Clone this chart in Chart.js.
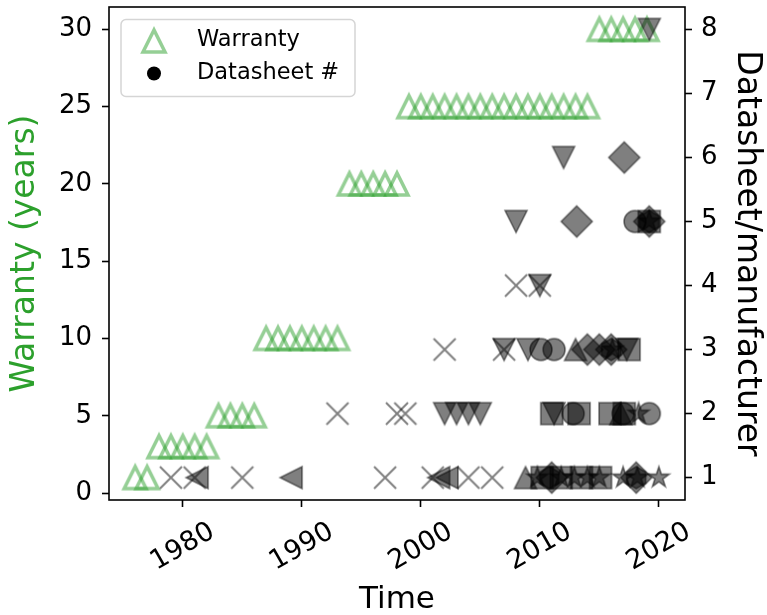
<!DOCTYPE html>
<html>
<head>
<meta charset="utf-8">
<script src="https://cdn.jsdelivr.net/npm/chart.js@4.4.1/dist/chart.umd.min.js"></script>
<style>
  html, body { margin: 0; padding: 0; background: #fff; }
</style>
</head>
<body>
<canvas id="myChart" width="767" height="615"></canvas>
<script>
// Tick values
const yearTicks = [1980, 1990, 2000, 2010, 2020];
const warrantyTicks = [0, 5, 10, 15, 20, 25, 30];
const datasheetTicks = [1, 2, 3, 4, 5, 6, 7, 8];

// Warranty (left axis)
const warrantyYears = [
    1976, 1977,
    1978, 1979, 1980, 1981, 1982,
    1983, 1984, 1985, 1986,
    1987, 1988, 1989, 1990, 1991, 1992, 1993,
    1994, 1995, 1996, 1997, 1998,
    1999, 2000, 2001, 2002, 2003, 2004, 2005, 2006, 2007, 2008, 2009, 2010, 2011, 2012, 2013, 2014,
    2015, 2016, 2017, 2018, 2019
];
const warrantyValues = [
    1, 1,
    3, 3, 3, 3, 3,
    5, 5, 5, 5,
    10, 10, 10, 10, 10, 10, 10,
    20, 20, 20, 20, 20,
    25, 25, 25, 25, 25, 25, 25, 25, 25, 25, 25, 25, 25, 25, 25, 25,
    30, 30, 30, 30, 30
];

// Datasheet count per manufacturer (right axis), one pair of arrays per marker
const crossYears = [1979, 1981, 1985, 1997, 2001, 2004, 2006, 1993, 1998, 1998.7, 2002, 2007, 2008, 2010];
const crossCounts = [1, 1, 1, 1, 1, 1, 1, 2, 2, 2, 3, 3, 4, 4];

const triLeftYears = [1981.2, 1989.1, 2001.5, 2002.2];
const triLeftCounts = [1, 1, 1, 1];

const triDownYears = [2002, 2003, 2004, 2005, 2011.2, 2007, 2009, 2017.3, 2010, 2008, 2012, 2019.2];
const triDownCounts = [2, 2, 2, 2, 2, 3, 3, 3, 4, 5, 6, 8];

const triUpYears = [2008.8, 2016.8, 2013];
const triUpCounts = [1, 2, 3];

const circleYears = [2012.8, 2017, 2019.2, 2010.1, 2011.2, 2018];
const circleCounts = [2, 2, 2, 3, 3, 5];

const squareYears = [2010.2, 2011.8, 2013.5, 2015.1, 2011, 2013.3, 2015.9, 2017.1, 2017.5, 2019.2];
const squareCounts = [1, 1, 1, 1, 2, 2, 2, 2, 3, 5];

const diamondYears = [2011, 2018.1, 2014, 2015, 2016, 2013.1, 2019.2, 2017.1];
const diamondCounts = [1, 1, 3, 3, 3, 5, 5, 6];

const starYears = [2009.8, 2011.8, 2012.9, 2014, 2015, 2017, 2018.2, 2020, 2018.3, 2016.1, 2019.2];
const starCounts = [1, 1, 1, 1, 1, 1, 1, 1, 2, 3, 5];

const hexYears = [2010.8, 2018.1, 2016, 2019.2];
const hexCounts = [1, 1, 3, 5];

// Marker look
const GREEN = '#2ca02c';
const GREEN_HALF = 'rgba(44, 160, 44, 0.5)';
const GRAY_HALF = 'rgba(0, 0, 0, 0.5)';
const MARKER_SIZE = 22;

// Draw a matplotlib-like marker on a small canvas, used as a Chart.js pointStyle
function makeMarker(shape, size, fill, stroke, lineWidth) {
    const c = document.createElement('canvas');
    const dim = Math.ceil(size * 1.6 + lineWidth * 4);
    c.width = dim;
    c.height = dim;
    const ctx = c.getContext('2d');
    const r = size / 2;
    ctx.translate(dim / 2, dim / 2);
    ctx.beginPath();
    if (shape === 'triUp') {
        ctx.moveTo(0, -r); ctx.lineTo(-r, r); ctx.lineTo(r, r); ctx.closePath();
    } else if (shape === 'triDown') {
        ctx.moveTo(0, r); ctx.lineTo(-r, -r); ctx.lineTo(r, -r); ctx.closePath();
    } else if (shape === 'triLeft') {
        ctx.moveTo(-r, 0); ctx.lineTo(r, -r); ctx.lineTo(r, r); ctx.closePath();
    } else if (shape === 'circle') {
        ctx.arc(0, 0, r, 0, Math.PI * 2);
    } else if (shape === 'square') {
        ctx.rect(-r, -r, size, size);
    } else if (shape === 'diamond') {
        const d = r * Math.SQRT2;
        ctx.moveTo(0, -d); ctx.lineTo(d, 0); ctx.lineTo(0, d); ctx.lineTo(-d, 0); ctx.closePath();
    } else if (shape === 'star') {
        for (let i = 0; i < 10; i++) {
            const rad = (i % 2 === 0) ? r : r * 0.381966;
            const a = -Math.PI / 2 + i * Math.PI / 5;
            if (i === 0) ctx.moveTo(rad * Math.cos(a), rad * Math.sin(a));
            else ctx.lineTo(rad * Math.cos(a), rad * Math.sin(a));
        }
        ctx.closePath();
    } else if (shape === 'hexagon') {
        for (let i = 0; i < 6; i++) {
            const a = -Math.PI / 2 + i * Math.PI / 3;
            if (i === 0) ctx.moveTo(r * Math.cos(a), r * Math.sin(a));
            else ctx.lineTo(r * Math.cos(a), r * Math.sin(a));
        }
        ctx.closePath();
    } else if (shape === 'x') {
        ctx.moveTo(-r, -r); ctx.lineTo(r, r);
        ctx.moveTo(r, -r); ctx.lineTo(-r, r);
    }
    if (fill) {
        ctx.fillStyle = fill;
        ctx.fill();
    }
    if (stroke) {
        ctx.strokeStyle = stroke;
        ctx.lineWidth = lineWidth;
        ctx.lineJoin = 'miter';
        ctx.stroke();
    }
    return c;
}

const warrantyMarker = makeMarker('triUp', MARKER_SIZE, null, GREEN_HALF, 3.5);

function points(xs, ys) {
    return xs.map((x, i) => ({ x: x, y: ys[i] }));
}

function datasheetSet(label, xs, ys, shape) {
    const lw = shape === 'x' ? 2 : 1.6;
    const fill = shape === 'x' ? null : GRAY_HALF;
    return {
        label: label,
        data: points(xs, ys),
        yAxisID: 'y2',
        pointStyle: makeMarker(shape, MARKER_SIZE, fill, GRAY_HALF, lw),
        pointRadius: 11,
        order: 0
    };
}

// fixed box sizes so the plot area sits where the reference has it
function fixBox(size, key) {
    return s => {
        s[key] = size;
        s.paddingTop = 0;
        s.paddingBottom = 0;
        s.paddingLeft = 0;
        s.paddingRight = 0;
    };
}

// Box around the plot area
const framePlugin = {
    id: 'frame',
    afterDraw(chart) {
        const a = chart.chartArea;
        const ctx = chart.ctx;
        ctx.save();
        ctx.strokeStyle = '#000';
        ctx.lineWidth = 1.6;
        ctx.strokeRect(a.left, a.top, a.right - a.left, a.bottom - a.top);
        ctx.restore();
    }
};

// Rotated, centred year labels
const yearLabelPlugin = {
    id: 'yearLabels',
    afterDraw(chart) {
        const ctx = chart.ctx;
        const xs = chart.scales.x;
        ctx.save();
        ctx.font = '27px "DejaVu Sans"';
        ctx.fillStyle = '#000';
        ctx.textAlign = 'center';
        ctx.textBaseline = 'middle';
        yearTicks.forEach(v => {
            ctx.save();
            ctx.translate(xs.getPixelForValue(v), xs.top + 47);
            ctx.rotate(-Math.PI / 6);
            ctx.fillText(String(v), 0, 0);
            ctx.restore();
        });
        ctx.restore();
    }
};

// Legend box in the top left corner
const legendPlugin = {
    id: 'boxLegend',
    afterDraw(chart) {
        const ctx = chart.ctx;
        ctx.save();
        ctx.beginPath();
        ctx.roundRect(121, 19.5, 234, 77, 5);
        ctx.fillStyle = 'rgba(255, 255, 255, 0.8)';
        ctx.fill();
        ctx.strokeStyle = '#d5d5d5';
        ctx.lineWidth = 1.5;
        ctx.stroke();
        ctx.drawImage(warrantyMarker, 154 - warrantyMarker.width / 2, 41 - warrantyMarker.height / 2);
        ctx.beginPath();
        ctx.arc(154, 73.5, 7, 0, Math.PI * 2);
        ctx.fillStyle = '#000';
        ctx.fill();
        ctx.font = '22.5px "DejaVu Sans"';
        ctx.textBaseline = 'middle';
        ctx.fillText('Warranty', 197, 40);
        ctx.fillText('Datasheet #', 197, 73);
        ctx.restore();
    }
};

function createChart() {
    const ctx = document.getElementById('myChart').getContext('2d');
    Chart.defaults.font.family = '"DejaVu Sans", sans-serif';
    Chart.defaults.color = '#000';

    return new Chart(ctx, {
        type: 'scatter',
        data: {
            datasets: [
                datasheetSet('x', crossYears, crossCounts, 'x'),
                datasheetSet('left', triLeftYears, triLeftCounts, 'triLeft'),
                datasheetSet('down', triDownYears, triDownCounts, 'triDown'),
                datasheetSet('up', triUpYears, triUpCounts, 'triUp'),
                datasheetSet('circle', circleYears, circleCounts, 'circle'),
                datasheetSet('square', squareYears, squareCounts, 'square'),
                datasheetSet('diamond', diamondYears, diamondCounts, 'diamond'),
                datasheetSet('star', starYears, starCounts, 'star'),
                datasheetSet('hex', hexYears, hexCounts, 'hexagon'),
                {
                    label: 'Warranty',
                    data: points(warrantyYears, warrantyValues),
                    yAxisID: 'y',
                    pointStyle: warrantyMarker,
                    pointRadius: 11,
                    order: 10
                }
            ]
        },
        options: {
            responsive: false,
            devicePixelRatio: 1,
            animation: false,
            events: [],
            layout: {
                autoPadding: false,
                padding: { top: 7, left: 0, right: 0, bottom: 0 }
            },
            plugins: {
                legend: { display: false },
                tooltip: { enabled: false }
            },
            scales: {
                x: {
                    type: 'linear',
                    min: 1973.8,
                    max: 2022.2,
                    afterBuildTicks: s => { s.ticks = yearTicks.map(v => ({ value: v })); },
                    afterFit: fixBox(115, 'height'),
                    ticks: { display: false },
                    grid: { drawOnChartArea: false, drawTicks: true, tickLength: 7, tickWidth: 1.6, tickColor: '#000' },
                    border: { display: false },
                    title: {
                        display: true,
                        text: 'Time',
                        color: '#000',
                        font: { size: 31, lineHeight: 1.0 },
                        padding: { top: 0, bottom: 0 }
                    }
                },
                y: {
                    type: 'linear',
                    position: 'left',
                    min: -0.45,
                    max: 31.45,
                    afterBuildTicks: s => { s.ticks = warrantyTicks.map(v => ({ value: v })); },
                    afterFit: fixBox(109, 'width'),
                    ticks: { font: { size: 26 }, padding: 10, color: '#000' },
                    grid: { drawOnChartArea: false, drawTicks: true, tickLength: 7, tickWidth: 1.6, tickColor: '#000' },
                    border: { display: false },
                    title: {
                        display: true,
                        text: 'Warranty (years)',
                        color: GREEN,
                        font: { size: 33, lineHeight: 1.2 },
                        padding: { top: 6, bottom: 0 }
                    }
                },
                y2: {
                    type: 'linear',
                    position: 'right',
                    min: 0.65,
                    max: 8.35,
                    afterBuildTicks: s => { s.ticks = datasheetTicks.map(v => ({ value: v })); },
                    afterFit: fixBox(82, 'width'),
                    ticks: { font: { size: 26 }, padding: 9, color: '#000' },
                    grid: { drawOnChartArea: false, drawTicks: true, tickLength: 7, tickWidth: 1.6, tickColor: '#000' },
                    border: { display: false },
                    title: {
                        display: true,
                        text: 'Datasheet/manufacturer',
                        color: '#000',
                        font: { size: 33, lineHeight: 1.2 },
                        padding: { top: 1, bottom: 0 }
                    }
                }
            }
        },
        plugins: [framePlugin, yearLabelPlugin, legendPlugin]
    });
}

document.addEventListener('DOMContentLoaded', createChart);
</script>
</body>
</html>
